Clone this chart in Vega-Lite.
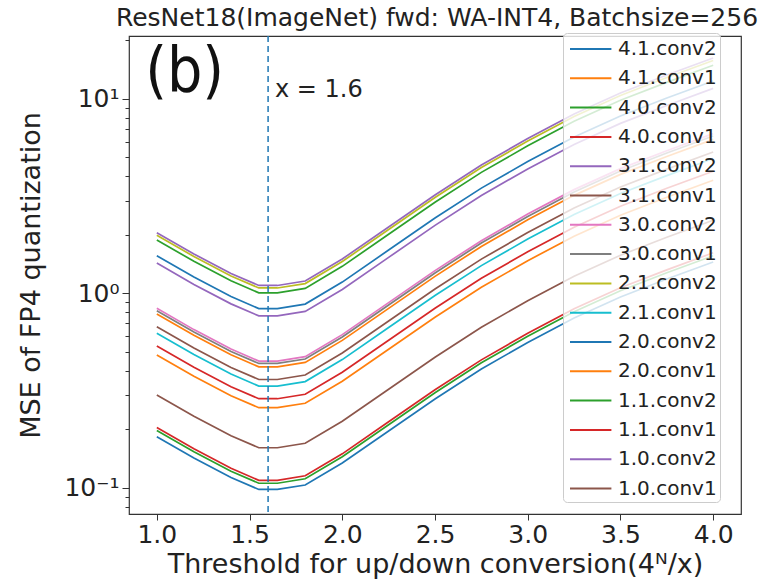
{
  "$schema": "https://vega.github.io/schema/vega-lite/v6.json",
  "autosize": {"type": "none"},
  "padding": {"left": 129, "top": 36, "right": 40, "bottom": 69},
  "width": 612,
  "height": 478,
  "background": "white",
  "title": {"text": "ResNet18(ImageNet) fwd: WA-INT4, Batchsize=256", "fontSize": 25, "font": "DejaVu Sans", "fontWeight": "normal", "color": "#222222", "anchor": "middle", "offset": 2, "dx": 2},
  "config": {
    "view": {"stroke": "#333333", "strokeWidth": 1.2},
    "axis": {"labelFont": "DejaVu Sans", "titleFont": "DejaVu Sans", "labelColor": "#222222", "titleColor": "#222222", "tickColor": "#333333", "domain": false, "grid": false, "titleFontWeight": "normal"}
  },
  "datasets": {
    "curves": [
      {"layer": "4.1.conv2", "x": [1.0,1.2,1.4,1.55,1.65,1.8,2.0,2.25,2.5,2.75,3.0,3.25,3.5,3.75,4.0], "mse": [0.183,0.1422,0.1129,0.0979,0.0979,0.1032,0.134,0.1958,0.286,0.4077,0.5585,0.7465,0.9575,1.184,1.449]},
      {"layer": "4.1.conv1", "x": [1.0,1.2,1.4,1.55,1.65,1.8,2.0,2.25,2.5,2.75,3.0,3.25,3.5,3.75,4.0], "mse": [0.482,0.3745,0.2974,0.2579,0.2579,0.2718,0.3528,0.5157,0.7534,1.074,1.471,1.966,2.522,3.119,3.817]},
      {"layer": "4.0.conv2", "x": [1.0,1.2,1.4,1.55,1.65,1.8,2.0,2.25,2.5,2.75,3.0,3.25,3.5,3.75,4.0], "mse": [0.197,0.1531,0.1215,0.1054,0.1054,0.1111,0.1442,0.2108,0.3079,0.4389,0.6012,0.8036,1.031,1.275,1.56]},
      {"layer": "4.0.conv1", "x": [1.0,1.2,1.4,1.55,1.65,1.8,2.0,2.25,2.5,2.75,3.0,3.25,3.5,3.75,4.0], "mse": [0.204,0.1585,0.1259,0.1091,0.1091,0.1151,0.1493,0.2183,0.3189,0.4545,0.6226,0.8321,1.067,1.32,1.616]},
      {"layer": "3.1.conv2", "x": [1.0,1.2,1.4,1.55,1.65,1.8,2.0,2.25,2.5,2.75,3.0,3.25,3.5,3.75,4.0], "mse": [2.05,1.593,1.265,1.097,1.097,1.156,1.501,2.194,3.204,4.567,6.257,8.362,10.73,13.27,16.24]},
      {"layer": "3.1.conv1", "x": [1.0,1.2,1.4,1.55,1.65,1.8,2.0,2.25,2.5,2.75,3.0,3.25,3.5,3.75,4.0], "mse": [0.3,0.2331,0.1851,0.1605,0.1605,0.1692,0.2196,0.321,0.4689,0.6684,0.9156,1.224,1.57,1.941,2.376]},
      {"layer": "3.0.conv2", "x": [1.0,1.2,1.4,1.55,1.65,1.8,2.0,2.25,2.5,2.75,3.0,3.25,3.5,3.75,4.0], "mse": [0.837,0.6503,0.5164,0.4478,0.4478,0.4721,0.6127,0.8956,1.308,1.865,2.555,3.414,4.379,5.416,6.629]},
      {"layer": "3.0.conv1", "x": [1.0,1.2,1.4,1.55,1.65,1.8,2.0,2.25,2.5,2.75,3.0,3.25,3.5,3.75,4.0], "mse": [0.814,0.6325,0.5022,0.4355,0.4355,0.4591,0.5958,0.871,1.272,1.814,2.484,3.32,4.259,5.267,6.447]},
      {"layer": "2.1.conv2", "x": [1.0,1.2,1.4,1.55,1.65,1.8,2.0,2.25,2.5,2.75,3.0,3.25,3.5,3.75,4.0], "mse": [1.99,1.546,1.228,1.065,1.065,1.122,1.457,2.129,3.11,4.434,6.073,8.117,10.41,12.88,15.76]},
      {"layer": "2.1.conv1", "x": [1.0,1.2,1.4,1.55,1.65,1.8,2.0,2.25,2.5,2.75,3.0,3.25,3.5,3.75,4.0], "mse": [0.623,0.4841,0.3844,0.3333,0.3333,0.3514,0.456,0.6666,0.9737,1.388,1.901,2.541,3.26,4.031,4.934]},
      {"layer": "2.0.conv2", "x": [1.0,1.2,1.4,1.55,1.65,1.8,2.0,2.25,2.5,2.75,3.0,3.25,3.5,3.75,4.0], "mse": [1.56,1.212,0.9625,0.8346,0.8346,0.8798,1.142,1.669,2.438,3.476,4.761,6.363,8.162,10.1,12.36]},
      {"layer": "2.0.conv1", "x": [1.0,1.2,1.4,1.55,1.65,1.8,2.0,2.25,2.5,2.75,3.0,3.25,3.5,3.75,4.0], "mse": [0.782,0.6076,0.4825,0.4184,0.4184,0.441,0.5724,0.8367,1.222,1.742,2.387,3.19,4.091,5.06,6.193]},
      {"layer": "1.1.conv2", "x": [1.0,1.2,1.4,1.55,1.65,1.8,2.0,2.25,2.5,2.75,3.0,3.25,3.5,3.75,4.0], "mse": [1.88,1.461,1.16,1.006,1.006,1.06,1.376,2.012,2.938,4.189,5.738,7.669,9.836,12.17,14.89]},
      {"layer": "1.1.conv1", "x": [1.0,1.2,1.4,1.55,1.65,1.8,2.0,2.25,2.5,2.75,3.0,3.25,3.5,3.75,4.0], "mse": [0.536,0.4165,0.3307,0.2868,0.2868,0.3023,0.3924,0.5735,0.8378,1.194,1.636,2.186,2.804,3.469,4.245]},
      {"layer": "1.0.conv2", "x": [1.0,1.2,1.4,1.55,1.65,1.8,2.0,2.25,2.5,2.75,3.0,3.25,3.5,3.75,4.0], "mse": [1.43,1.111,0.8823,0.7651,0.7651,0.8065,1.047,1.53,2.235,3.186,4.364,5.833,7.482,9.254,11.33]},
      {"layer": "1.0.conv1", "x": [1.0,1.2,1.4,1.55,1.65,1.8,2.0,2.25,2.5,2.75,3.0,3.25,3.5,3.75,4.0], "mse": [0.673,0.5229,0.4152,0.3601,0.3601,0.3796,0.4926,0.7201,1.052,1.499,2.054,2.745,3.521,4.355,5.33]}
    ]
  },
  "layer": [
    {
      "data": {"name": "curves"},
      "transform": [{"flatten": ["x", "mse"]}],
      "mark": {"type": "line", "strokeWidth": 1.7},
      "encoding": {
        "x": {"field": "x", "type": "quantitative", "scale": {"domain": [0.85, 4.15], "nice": false, "zero": false},
              "axis": {"values": [1.0,1.5,2.0,2.5,3.0,3.5,4.0], "format": ".1f", "labelFontSize": 25, "tickSize": 6, "labelPadding": 2, "title": "Threshold for up/down conversion(4ᴺ/x)", "titleFontSize": 27, "titlePadding": 4}},
        "y": {"field": "mse", "type": "quantitative", "scale": {"type": "log", "domain": [0.0732, 21.07], "nice": false},
              "axis": {"values": [0.08,0.09,0.1,0.2,0.3,0.4,0.5,0.6,0.7,0.8,0.9,1,2,3,4,5,6,7,8,9,10,20],
                       "labelExpr": "datum.value == 10 ? '10¹' : datum.value == 1 ? '10⁰' : datum.value == 0.1 ? '10⁻¹' : ''",
                       "labelFontSize": 25, "labelPadding": 3,
                       "tickSize": {"condition": {"test": "datum.value == 10 || datum.value == 1 || datum.value == 0.1", "value": 7}, "value": 4},
                       "title": "MSE of FP4 quantization", "titleFontSize": 27, "titlePadding": 18}},
        "color": {"field": "layer", "type": "nominal",
                  "scale": {"domain": ["4.1.conv2","4.1.conv1","4.0.conv2","4.0.conv1","3.1.conv2","3.1.conv1","3.0.conv2","3.0.conv1","2.1.conv2","2.1.conv1","2.0.conv2","2.0.conv1","1.1.conv2","1.1.conv1","1.0.conv2","1.0.conv1"],
                            "range": ["#1f77b4","#ff7f0e","#2ca02c","#d62728","#9467bd","#8c564b","#e377c2","#7f7f7f","#bcbd22","#17becf","#1f77b4","#ff7f0e","#2ca02c","#d62728","#9467bd","#8c564b"]},
                  "legend": {"orient": "none", "legendX": 434, "legendY": -3, "title": null, "symbolType": "M-0.75,0L2.7,0", "symbolSize": 576, "symbolStrokeWidth": 2, "symbolFillColor": "transparent", "labelFontSize": 20, "labelFont": "DejaVu Sans", "labelColor": "#222222", "fillColor": "rgba(255,255,255,0.8)", "strokeColor": "#cccccc", "cornerRadius": 4, "padding": 3, "rowPadding": 6.3, "labelOffset": 26}}
      }
    },
    {
      "data": {"values": [{}]},
      "mark": {"type": "rule", "strokeDash": [6, 4], "color": "#1f77b4", "strokeWidth": 1.5},
      "encoding": {"x": {"datum": 1.6, "type": "quantitative"}}
    },
    {
      "data": {"values": [{}]},
      "mark": {"type": "text", "text": "x = 1.6", "fontSize": 24, "font": "DejaVu Sans", "align": "left", "baseline": "middle", "color": "#222222"},
      "encoding": {"x": {"datum": 1.637, "type": "quantitative"}, "y": {"datum": 11.1, "type": "quantitative"}}
    },
    {
      "data": {"values": [{}]},
      "mark": {"type": "text", "text": "(b)", "fontSize": 62, "font": "DejaVu Sans Condensed, Roboto", "align": "left", "baseline": "middle", "color": "#111111"},
      "encoding": {"x": {"datum": 0.937, "type": "quantitative"}, "y": {"datum": 13.7, "type": "quantitative"}}
    }
  ]
}
